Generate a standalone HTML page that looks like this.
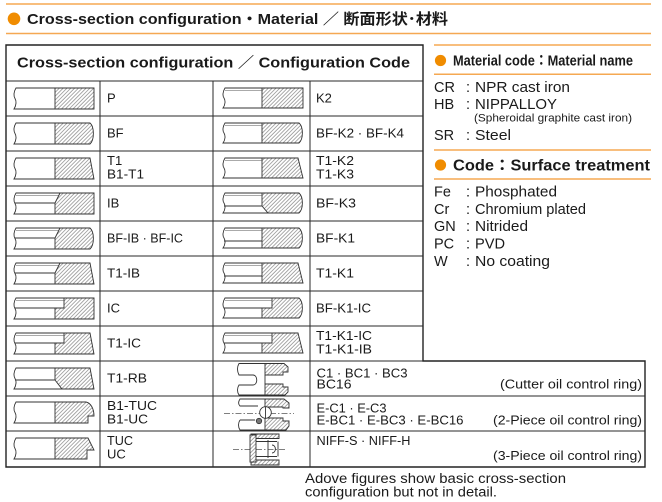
<!DOCTYPE html>
<html>
<head>
<meta charset="utf-8">
<style>
html,body{margin:0;padding:0;background:#fff;}
svg{display:block;}
.tx{font-family:"Liberation Sans","Noto Sans CJK JP",sans-serif;fill:#1a1a1a;}
.b{font-weight:bold;}
.hf{fill:url(#h);stroke:#333;stroke-width:0.9;}
.o{fill:none;stroke:#333;stroke-width:0.9;}
.th{fill:none;stroke:#555;stroke-width:0.5;}
.ln{stroke:#2a2a2a;stroke-width:1;fill:none;}
.or{stroke:#f5a852;stroke-width:1.5;fill:none;}
.dash{stroke:#555;stroke-width:0.7;stroke-dasharray:6,2,1.5,2;fill:none;}
</style>
</head>
<body>
<svg width="662" height="502" viewBox="0 0 662 502" xmlns="http://www.w3.org/2000/svg">
<defs>
<pattern id="h" patternUnits="userSpaceOnUse" width="2.7" height="2.7" patternTransform="rotate(45)">
<rect width="2.7" height="2.7" fill="#fff"/>
<line x1="0.5" y1="0" x2="0.5" y2="2.7" stroke="#666" stroke-width="0.55"/>
</pattern>
</defs>

<!-- Title -->
<line class="or" x1="6" y1="4" x2="651" y2="4"/>
<line class="or" x1="6" y1="33.5" x2="651" y2="33.5"/>
<circle cx="14" cy="18.8" r="6.3" fill="#f08c00"/>
<text class="tx b" x="27" y="24" font-size="15" textLength="421" lengthAdjust="spacingAndGlyphs">Cross-section configuration・Material ／ 断面形状･材料</text>

<!-- Table grid -->
<path d="M6,45H423V361H645V467H6Z" stroke="#222" stroke-width="1.4" fill="none"/>
<path class="ln" d="M6,81H423M6,116H423M6,151H423M6,186H423M6,221H423M6,256H423M6,291H423M6,326H423M6,361H423M6,396H645M6,431H645"/>
<path class="ln" d="M100,81V467M213,81V467M310,81V467" stroke-width="1.2"/>

<text class="tx b" x="17" y="67.5" font-size="15" textLength="393" lengthAdjust="spacingAndGlyphs">Cross-section configuration ／ Configuration Code</text>

<!-- Left column shapes -->
<g transform="translate(13,88)">
<path class="hf" d="M42,0H81V21H42Z"/>
<path class="o" d="M42,0H3C0.5,4 0.5,8 2,10.5C3.5,13 3.5,17 1,21H42"/>
</g>
<g transform="translate(13,123)">
<path class="hf" d="M42,0H77C81.5,4 81.5,17 77,21H42Z"/>
<path class="o" d="M42,0H3C0.5,4 0.5,8 2,10.5C3.5,13 3.5,17 1,21H42"/>
</g>
<g transform="translate(13,158)">
<path class="hf" d="M42,0H77L81,21H42Z"/>
<path class="o" d="M42,0H3C0.5,4 0.5,8 2,10.5C3.5,13 3.5,17 1,21H42"/>
</g>
<g transform="translate(13,193)">
<path class="hf" d="M42,21V10L47,0H81V21Z"/>
<path class="o" d="M47,0H3C0.5,4 0.5,8 2,10.5C3.5,13 3.5,17 1,21H42M2,10H42"/>
<path class="th" d="M3,2.5H45.5"/>
</g>
<g transform="translate(13,228)">
<path class="hf" d="M42,21V10L47,0H77C81.5,4 81.5,17 77,21Z"/>
<path class="o" d="M47,0H3C0.5,4 0.5,8 2,10.5C3.5,13 3.5,17 1,21H42M2,10H42"/>
<path class="th" d="M3,2.5H45.5"/>
</g>
<g transform="translate(13,263)">
<path class="hf" d="M42,21V10L47,0H77L81,21Z"/>
<path class="o" d="M47,0H3C0.5,4 0.5,8 2,10.5C3.5,13 3.5,17 1,21H42M2,10H42"/>
<path class="th" d="M3,2.5H45.5"/>
</g>
<g transform="translate(13,298)">
<path class="hf" d="M42,21V10H51V0H81V21Z"/>
<path class="o" d="M51,0H3C0.5,4 0.5,8 2,10.5C3.5,13 3.5,17 1,21H42M2,10H42"/>
<path class="th" d="M3,2.5H51"/>
</g>
<g transform="translate(13,333)">
<path class="hf" d="M42,21V10H51V0H77L81,21Z"/>
<path class="o" d="M51,0H3C0.5,4 0.5,8 2,10.5C3.5,13 3.5,17 1,21H42M2,10H42"/>
<path class="th" d="M3,2.5H51"/>
</g>
<g transform="translate(13,368)">
<path class="hf" d="M42,0H77L81,21H49L42,12Z"/>
<path class="o" d="M42,0H3C0.5,4 0.5,8 2,10.5C3.5,13 3.5,17 1,21H49M2,12H42"/>
</g>
<g transform="translate(13,402)">
<path class="hf" d="M42,0H73C78,1 81,7 81,14H75V21H42Z"/>
<path class="o" d="M42,0H3C0.5,4 0.5,8 2,10.5C3.5,13 3.5,17 1,21H42"/>
</g>
<g transform="translate(13,438)">
<path class="hf" d="M42,0H75L81,12H74V21H42Z"/>
<path class="o" d="M42,0H3C0.5,4 0.5,8 2,10.5C3.5,13 3.5,17 1,21H42"/>
</g>

<!-- Right column shapes -->
<g transform="translate(222,88)">
<path class="hf" d="M40,0H81V20H40Z"/>
<path class="o" d="M40,0H3C0.5,4 0.5,8 2,10C3.5,12.5 3.5,16.5 1,20H40"/>
<path class="th" d="M3,2.5H40"/>
</g>
<g transform="translate(222,123)">
<path class="hf" d="M40,0H77C81.5,4 81.5,16 77,20H40Z"/>
<path class="o" d="M40,0H3C0.5,4 0.5,8 2,10C3.5,12.5 3.5,16.5 1,20H40"/>
<path class="th" d="M3,2.5H40"/>
</g>
<g transform="translate(222,158)">
<path class="hf" d="M40,0H76L81,20H40Z"/>
<path class="o" d="M40,0H3C0.5,4 0.5,8 2,10C3.5,12.5 3.5,16.5 1,20H40"/>
<path class="th" d="M3,2.5H40"/>
</g>
<g transform="translate(222,193)">
<path class="hf" d="M40,0H77C81.5,4 81.5,16 77,20H46L40,13Z"/>
<path class="o" d="M40,0H3C0.5,4 0.5,8 2,10C3.5,12.5 3.5,16.5 1,20H46M2,13H40"/>
<path class="th" d="M3,2.5H40"/>
</g>
<g transform="translate(222,228)">
<path class="hf" d="M40,0H77C81.5,4 81.5,16 77,20H40Z"/>
<path class="o" d="M40,0H3C0.5,4 0.5,8 2,10C3.5,12.5 3.5,16.5 1,20H40M2,13H40"/>
<path class="th" d="M3,2.5H40"/>
</g>
<g transform="translate(222,263)">
<path class="hf" d="M40,0H76L81,20H40Z"/>
<path class="o" d="M40,0H3C0.5,4 0.5,8 2,10C3.5,12.5 3.5,16.5 1,20H40M2,13H40"/>
<path class="th" d="M3,2.5H40"/>
</g>
<g transform="translate(222,298)">
<path class="hf" d="M40,20V10H50V0H77C81.5,4 81.5,16 77,20Z"/>
<path class="o" d="M50,0H3C0.5,4 0.5,8 2,10C3.5,12.5 3.5,16.5 1,20H40M2,10H40"/>
<path class="th" d="M3,2.5H50"/>
</g>
<g transform="translate(222,333)">
<path class="hf" d="M40,20V10H50V0H76L81,20Z"/>
<path class="o" d="M50,0H3C0.5,4 0.5,8 2,10C3.5,12.5 3.5,16.5 1,20H40M2,10H40"/>
<path class="th" d="M3,2.5H50"/>
</g>

<!-- Cutter oil ring -->
<path class="o" d="M265,363.5H239C237,367 237,371 239,375H253C258,375 258,385 253,385H239C237,388 237,392 239,395H265M265,375V384"/>
<path class="hf" d="M265,363.5H284L288,367V372H283V375H265Z"/>
<path class="hf" d="M265,384H283V387H288V392L285,395H265Z"/>

<!-- 2-piece oil ring -->
<path class="dash" d="M224,413.5H294"/>
<path class="o" d="M265,399H240C238,402 238,404 240,406H258M240,420H255M240,420C238,423 238,427 240,430H265"/>
<path class="hf" d="M265,399H284L289,403V408H283V407H265Z"/>
<path class="hf" d="M265,418H283V421H289V426L286,430H265Z"/>
<circle cx="265.5" cy="412.5" r="5.8" fill="#fff" stroke="#333" stroke-width="0.9"/>
<path class="o" d="M265.5,406.7V418.3"/>
<circle cx="259" cy="421" r="2.7" fill="#777" stroke="#333" stroke-width="0.8"/>

<!-- 3-piece oil ring -->
<path class="dash" d="M233,449.5H287"/>
<path class="hf" d="M251,434H279V438.5H251Z"/>
<path class="hf" d="M251,460H279V465H251Z"/>
<path class="hf" d="M250,435H256V462H250Z"/>
<path class="o" d="M256,441.5H277M256,456.5H277M268,440V458M278,441.5V456.5"/>
<path class="o" d="M272,445C276.5,445 276.5,453 272,453"/>

<!-- Left text column -->
<g class="tx" font-size="13">
<text x="107" y="102.5">P</text>
<text x="107" y="137.5">BF</text>
<text x="107" y="165">T1</text>
<text x="107" y="178.3" textLength="37" lengthAdjust="spacingAndGlyphs">B1-T1</text>
<text x="107" y="207.5">IB</text>
<text x="107" y="242.5" textLength="76" lengthAdjust="spacingAndGlyphs">BF-IB · BF-IC</text>
<text x="107" y="277.5" textLength="33" lengthAdjust="spacingAndGlyphs">T1-IB</text>
<text x="107" y="312.5">IC</text>
<text x="107" y="347.5" textLength="34" lengthAdjust="spacingAndGlyphs">T1-IC</text>
<text x="107" y="382.5" textLength="40" lengthAdjust="spacingAndGlyphs">T1-RB</text>
<text x="107" y="410" textLength="50" lengthAdjust="spacingAndGlyphs">B1-TUC</text>
<text x="107" y="423.3" textLength="41" lengthAdjust="spacingAndGlyphs">B1-UC</text>
<text x="107" y="445" textLength="26" lengthAdjust="spacingAndGlyphs">TUC</text>
<text x="107" y="458.3">UC</text>
</g>

<!-- Right text column -->
<g class="tx" font-size="13">
<text x="316" y="102.5">K2</text>
<text x="316" y="137.5" textLength="88" lengthAdjust="spacingAndGlyphs">BF-K2 · BF-K4</text>
<text x="316" y="165" textLength="38" lengthAdjust="spacingAndGlyphs">T1-K2</text>
<text x="316" y="178.3" textLength="38" lengthAdjust="spacingAndGlyphs">T1-K3</text>
<text x="316" y="207.5" textLength="40" lengthAdjust="spacingAndGlyphs">BF-K3</text>
<text x="316" y="242.5" textLength="39" lengthAdjust="spacingAndGlyphs">BF-K1</text>
<text x="316" y="277.5" textLength="38" lengthAdjust="spacingAndGlyphs">T1-K1</text>
<text x="316" y="312.5" textLength="55" lengthAdjust="spacingAndGlyphs">BF-K1-IC</text>
<text x="316" y="340" textLength="56" lengthAdjust="spacingAndGlyphs">T1-K1-IC</text>
<text x="316" y="353.3" textLength="56" lengthAdjust="spacingAndGlyphs">T1-K1-IB</text>
<text x="316.5" y="377.3" textLength="91" lengthAdjust="spacingAndGlyphs">C1 · BC1 · BC3</text>
<text x="316.5" y="388.3" textLength="35" lengthAdjust="spacingAndGlyphs">BC16</text>
<text x="500" y="388.3" textLength="142" lengthAdjust="spacingAndGlyphs">(Cutter oil control ring)</text>
<text x="316.5" y="412.7" textLength="70" lengthAdjust="spacingAndGlyphs">E-C1 · E-C3</text>
<text x="316.5" y="424.3" textLength="147" lengthAdjust="spacingAndGlyphs">E-BC1 · E-BC3 · E-BC16</text>
<text x="493" y="424.3" textLength="149" lengthAdjust="spacingAndGlyphs">(2-Piece oil control ring)</text>
<text x="316.5" y="445" textLength="94" lengthAdjust="spacingAndGlyphs">NIFF-S · NIFF-H</text>
<text x="493" y="460" textLength="149" lengthAdjust="spacingAndGlyphs">(3-Piece oil control ring)</text>
</g>

<!-- Footnote -->
<g class="tx" font-size="13.5">
<text x="305" y="483" textLength="261" lengthAdjust="spacingAndGlyphs">Adove figures show basic cross-section</text>
<text x="305" y="496.5" textLength="192" lengthAdjust="spacingAndGlyphs">configuration but not in detail.</text>
</g>

<!-- Right panel -->
<line class="or" x1="434" y1="45" x2="651" y2="45"/>
<line class="or" x1="434" y1="74.3" x2="651" y2="74.3"/>
<line class="or" x1="434" y1="150" x2="651" y2="150"/>
<line class="or" x1="434" y1="179" x2="651" y2="179"/>
<circle cx="440.5" cy="60.5" r="5.6" fill="#f08c00"/>
<circle cx="440.5" cy="165" r="5.6" fill="#f08c00"/>
<text class="tx b" x="453" y="65.5" font-size="14.5" textLength="180" lengthAdjust="spacingAndGlyphs">Material  code：Material name</text>
<text class="tx b" x="453" y="170.5" font-size="15.5" textLength="197" lengthAdjust="spacingAndGlyphs">Code：Surface treatment</text>

<g class="tx" font-size="14.5">
<text x="434" y="92">CR</text><text x="466" y="92">:</text>
<text x="475" y="92" textLength="95" lengthAdjust="spacingAndGlyphs">NPR cast iron</text>
<text x="434" y="109">HB</text><text x="466" y="109">:</text>
<text x="475" y="109" textLength="82" lengthAdjust="spacingAndGlyphs">NIPPALLOY</text>
<text x="474" y="121.5" font-size="11" textLength="158" lengthAdjust="spacingAndGlyphs">(Spheroidal graphite cast iron)</text>
<text x="434" y="140">SR</text><text x="466" y="140">:</text>
<text x="475" y="140" textLength="36" lengthAdjust="spacingAndGlyphs">Steel</text>

<text x="434" y="196.5">Fe</text><text x="466" y="196.5">:</text>
<text x="475" y="196.5" textLength="82" lengthAdjust="spacingAndGlyphs">Phosphated</text>
<text x="434" y="214">Cr</text><text x="466" y="214">:</text>
<text x="475" y="214" textLength="111" lengthAdjust="spacingAndGlyphs">Chromium plated</text>
<text x="434" y="231">GN</text><text x="466" y="231">:</text>
<text x="475" y="231" textLength="53" lengthAdjust="spacingAndGlyphs">Nitrided</text>
<text x="434" y="248.5">PC</text><text x="466" y="248.5">:</text>
<text x="475" y="248.5" textLength="30" lengthAdjust="spacingAndGlyphs">PVD</text>
<text x="434" y="266">W</text><text x="466" y="266">:</text>
<text x="475" y="266" textLength="75" lengthAdjust="spacingAndGlyphs">No coating</text>
</g>
</svg>
</body>
</html>
